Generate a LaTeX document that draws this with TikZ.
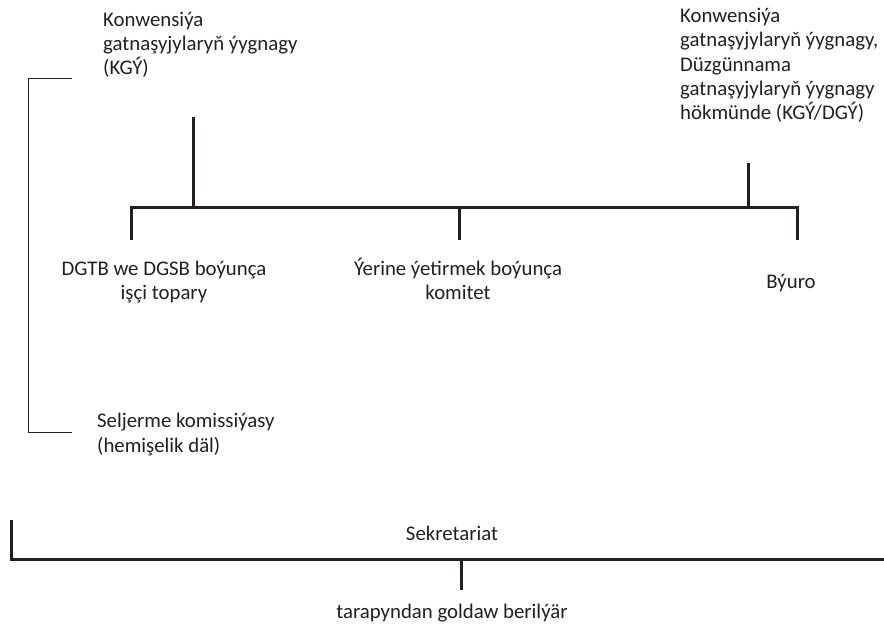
\documentclass[tikz,border=0pt]{standalone}
\usepackage{fontspec}
\setmainfont{Carlito}
\definecolor{ink}{RGB}{35,31,32}
\begin{document}
\begin{tikzpicture}[x=1pt,y=-1pt,
  lbl/.style={inner sep=0pt, text=ink, font=\fontsize{20.8}{24.4}\selectfont},
  thin/.style={draw=ink, line width=1pt},
  thick/.style={draw=ink, line width=3pt}]
\useasboundingbox (0,0) rectangle (884,631);
% texts (base anchor = baseline of the last line)
\node[lbl, anchor=base west, align=left] (kgy) at (103,75) {Konwensiýa\\gatnaşyjylaryň ýygnagy\\(KGÝ)};
\node[lbl, anchor=base west, align=left] (kgydgy) at (680,120) {Konwensiýa\\gatnaşyjylaryň ýygnagy,\\Düzgünnama\\gatnaşyjylaryň ýygnagy\\hökmünde (KGÝ/DGÝ)};
\node[lbl, anchor=base, align=center] (dgtb) at (164,300) {DGTB we DGSB boýunça\\işçi topary};
\node[lbl, anchor=base, align=center] (komitet) at (458,300) {Ýerine ýetirmek boýunça\\komitet};
\node[lbl, anchor=base] (byuro) at (791,289) {Býuro};
\node[lbl, anchor=base west, align=left] (seljerme) at (97,452) {Seljerme komissiýasy\\(hemişelik däl)};
\node[lbl, anchor=base] (sekr) at (452,540) {Sekretariat};
\node[lbl, anchor=base] (goldaw) at (452,618) {tarapyndan goldaw berilýär};
% connector coordinates
\coordinate (kgystub) at (193,117);
\coordinate (kgyjoin) at (193,208);
\coordinate (dgystub) at (748,163);
\coordinate (dgyjoin) at (748,208);
\coordinate (dgtbstub) at (131,240);
\coordinate (komstub) at (459,240);
\coordinate (komjoin) at (459,208);
\coordinate (byustub) at (797,240);
\coordinate (brtop) at (72,79);
\coordinate (brbot) at (72,432);
\coordinate (sekleft) at (11,520);
\coordinate (sekright) at (884,559);
\coordinate (sekjoin) at (461,559);
\coordinate (sekstub) at (461,590);
% main tree
\draw[thick] (dgtbstub) |- (kgyjoin) -- (dgyjoin) -| (byustub);
\draw[thick] (kgystub) -- (kgyjoin);
\draw[thick] (dgystub) -- (dgyjoin);
\draw[thick] (komjoin) -- (komstub);
% left bracket
\draw[thin] (brtop) -| (28,432) -- (brbot);
% secretariat bracket
\draw[thick] (sekleft) |- (sekright);
\draw[thick] (sekjoin) -- (sekstub);
\end{tikzpicture}
\end{document}
